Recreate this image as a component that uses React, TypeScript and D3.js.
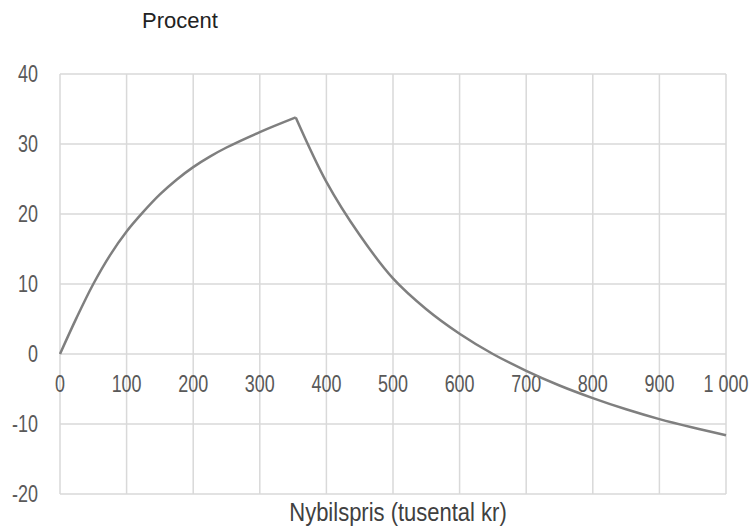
import React from 'react';
import * as d3 from 'd3';

// Nybilspris (tusental kr) and percent values
const risePrices = [0, 25, 50, 75, 100, 125, 150, 175, 200, 225, 250, 300, 354];
const riseValues = [0, 5.2, 10.0, 14.1, 17.5, 20.3, 22.8, 24.9, 26.7, 28.2, 29.5, 31.7, 33.8];
const fallPrices = [354, 400, 450, 500, 550, 600, 650, 700, 750, 800, 850, 900, 950, 1000];
const fallValues = [33.8, 24.6, 17.0, 10.8, 6.4, 2.9, 0.0, -2.4, -4.5, -6.3, -7.9, -9.3, -10.5, -11.6];

const xTicks = [0, 100, 200, 300, 400, 500, 600, 700, 800, 900, 1000];
const yTicks = [-20, -10, 0, 10, 20, 30, 40];

const width = 751;
const height = 526;
const margin = { top: 74, right: 25, bottom: 32, left: 60 };

const font = "'Liberation Sans', Arial, sans-serif";
const squeeze = 0.78; // condensed look for the tick labels

const App = () => {
  const x = d3
    .scaleLinear()
    .domain([0, 1000])
    .range([margin.left, width - margin.right]);

  const y = d3
    .scaleLinear()
    .domain([-20, 40])
    .range([height - margin.bottom, margin.top]);

  const line = d3
    .line<[number, number]>()
    .x((d) => x(d[0]))
    .y((d) => y(d[1]))
    .curve(d3.curveCatmullRom.alpha(0.5));

  const rise = risePrices.map((p, i) => [p, riseValues[i]] as [number, number]);
  const fall = fallPrices.map((p, i) => [p, fallValues[i]] as [number, number]);

  // x tick format with space as thousands separator
  const fmt = (v: number) => (v >= 1000 ? `${Math.floor(v / 1000)} ${String(v % 1000).padStart(3, '0')}` : String(v));

  return (
    <svg
      width={width}
      height={height}
      style={{ position: 'absolute', left: 0, top: 0, background: '#fff' }}
    >
      {/* grid */}
      <g stroke="#d9d9d9" strokeWidth={1.5}>
        {xTicks.map((t) => (
          <line key={'gx' + t} x1={x(t)} x2={x(t)} y1={y(40)} y2={y(-20)} />
        ))}
        {yTicks.map((t) => (
          <line key={'gy' + t} x1={x(0)} x2={x(1000)} y1={y(t)} y2={y(t)} />
        ))}
      </g>

      {/* y labels */}
      <g fontFamily={font} fontSize={23} fill="#595959" textAnchor="end">
        {yTicks.map((t) => (
          <text key={'yl' + t} transform={`translate(38,${y(t)}) scale(${squeeze},1)`} dy="0.36em">
            {t}
          </text>
        ))}
      </g>

      {/* x labels, sitting below the zero line */}
      <g fontFamily={font} fontSize={23} fill="#595959" textAnchor="middle">
        {xTicks.map((t) => (
          <text key={'xl' + t} transform={`translate(${x(t)},${y(0) + 38}) scale(${squeeze},1)`}>
            {fmt(t)}
          </text>
        ))}
      </g>

      <path d={line(rise) || ''} fill="none" stroke="#7f7f7f" strokeWidth={2.5} />
      <path d={line(fall) || ''} fill="none" stroke="#7f7f7f" strokeWidth={2.5} />

      <text
        x={180}
        y={28}
        textAnchor="middle"
        fontFamily={font}
        fontSize={22}
        fill="#222"
      >
        Procent
      </text>

      <text
        transform={`translate(398,521) scale(0.88,1)`}
        textAnchor="middle"
        fontFamily={font}
        fontSize={25}
        fill="#404040"
      >
        Nybilspris (tusental kr)
      </text>
    </svg>
  );
};

export default App;
